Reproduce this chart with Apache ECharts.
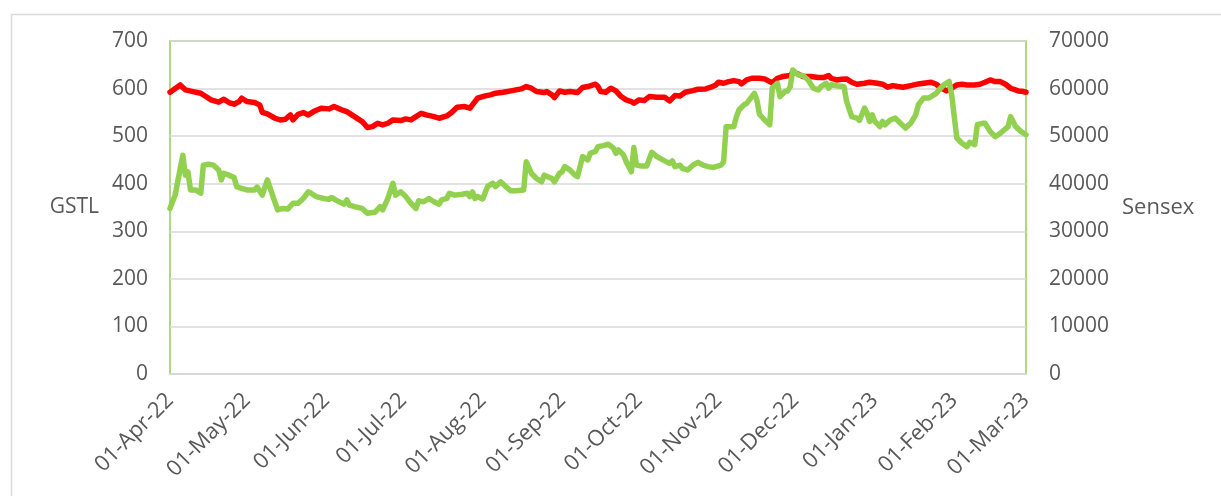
<!DOCTYPE html>
<html><head><meta charset="utf-8">
<script src="https://cdn.jsdelivr.net/npm/echarts@6/dist/echarts.min.js"></script>
<style>html,body{margin:0;padding:0;background:#fff}#c{width:1221px;height:496px}</style>
</head><body><div id="c"></div><script>
// ---- data ----
const gstlDates = [
'2022-04-01','2022-04-03','2022-04-06','2022-04-07','2022-04-08','2022-04-09','2022-04-11','2022-04-13','2022-04-14','2022-04-16',
'2022-04-18','2022-04-20','2022-04-21','2022-04-22','2022-04-24','2022-04-26','2022-04-27','2022-04-29','2022-05-01','2022-05-04',
'2022-05-05','2022-05-07','2022-05-09','2022-05-11','2022-05-13','2022-05-15','2022-05-17','2022-05-19','2022-05-21','2022-05-23',
'2022-05-25','2022-05-26','2022-05-28','2022-05-31','2022-06-02','2022-06-03','2022-06-06','2022-06-08','2022-06-09','2022-06-10',
'2022-06-12','2022-06-15','2022-06-17','2022-06-20','2022-06-22','2022-06-23','2022-06-25','2022-06-27','2022-06-28','2022-06-30',
'2022-07-02','2022-07-04','2022-07-06','2022-07-07','2022-07-09','2022-07-11','2022-07-13','2022-07-15','2022-07-16','2022-07-18',
'2022-07-19','2022-07-21','2022-07-24','2022-07-26','2022-07-27','2022-07-28','2022-07-29','2022-07-30','2022-08-01','2022-08-03',
'2022-08-05','2022-08-06','2022-08-08','2022-08-10','2022-08-12','2022-08-14','2022-08-17','2022-08-18','2022-08-20','2022-08-22',
'2022-08-24','2022-08-25','2022-08-28','2022-08-29','2022-08-31','2022-09-01','2022-09-02','2022-09-04','2022-09-06','2022-09-07',
'2022-09-09','2022-09-11','2022-09-12','2022-09-14','2022-09-15','2022-09-17','2022-09-19','2022-09-21','2022-09-22','2022-09-23',
'2022-09-25','2022-09-26','2022-09-28','2022-09-29','2022-09-30','2022-10-02','2022-10-04','2022-10-06','2022-10-08','2022-10-11',
'2022-10-13','2022-10-14','2022-10-15','2022-10-17','2022-10-18','2022-10-20','2022-10-22','2022-10-24','2022-10-26','2022-10-28',
'2022-10-30','2022-10-31','2022-11-02','2022-11-03','2022-11-04','2022-11-07','2022-11-08','2022-11-09','2022-11-11','2022-11-12',
'2022-11-14','2022-11-15','2022-11-16','2022-11-17','2022-11-19','2022-11-21','2022-11-22','2022-11-24','2022-11-25','2022-11-27',
'2022-11-28','2022-11-29','2022-11-30','2022-12-02','2022-12-04','2022-12-06','2022-12-08','2022-12-10','2022-12-11','2022-12-13',
'2022-12-14','2022-12-15','2022-12-17','2022-12-20','2022-12-21','2022-12-23','2022-12-25','2022-12-26','2022-12-28','2022-12-29',
'2022-12-30','2022-12-31','2023-01-01','2023-01-03','2023-01-04','2023-01-05','2023-01-07','2023-01-09','2023-01-11','2023-01-13',
'2023-01-15','2023-01-17','2023-01-18','2023-01-20','2023-01-22','2023-01-25','2023-01-26','2023-01-28','2023-01-30','2023-01-31',
'2023-02-02','2023-02-04','2023-02-06','2023-02-07','2023-02-09','2023-02-10','2023-02-12','2023-02-13','2023-02-15','2023-02-17',
'2023-02-19','2023-02-22','2023-02-23','2023-02-25','2023-02-27','2023-03-01'];
const gstlValues = [
348,376,460,418,425,387,387,380,439,441,
439,429,408,422,418,413,394,390,387,387,
393,376,408,376,345,348,347,359,359,369,
383,380,373,369,367,371,362,357,366,355,
352,348,338,340,352,345,369,401,376,383,
373,359,348,364,362,369,362,357,366,369,
380,376,378,380,373,383,369,373,368,395,
401,394,404,394,385,385,387,446,422,411,
404,418,411,404,422,425,436,429,418,415,
457,450,464,468,478,480,483,475,464,471,
460,446,425,476,439,437,437,466,457,448,
443,448,436,439,432,429,439,445,439,436,
434,436,439,446,520,520,541,555,566,569,
583,590,576,546,534,524,601,611,583,594,
595,604,639,629,627,618,601,597,604,611,
601,608,606,604,573,541,538,533,559,548,
531,545,531,520,531,524,534,538,527,517,
527,545,566,580,580,590,597,608,615,587,
496,485,478,487,482,524,527,527,510,499,
506,520,541,520,510,503];

const sensexDates = [
'2022-04-01','2022-04-05','2022-04-07','2022-04-10','2022-04-13','2022-04-15','2022-04-17','2022-04-20','2022-04-22','2022-04-24',
'2022-04-26','2022-04-28','2022-04-29','2022-05-01','2022-05-04','2022-05-06','2022-05-07','2022-05-09','2022-05-12','2022-05-14',
'2022-05-16','2022-05-18','2022-05-19','2022-05-21','2022-05-23','2022-05-25','2022-05-27','2022-05-30','2022-06-02','2022-06-04',
'2022-06-07','2022-06-09','2022-06-12','2022-06-15','2022-06-17','2022-06-19','2022-06-21','2022-06-23','2022-06-25','2022-06-27',
'2022-06-30','2022-07-02','2022-07-04','2022-07-06','2022-07-08','2022-07-10','2022-07-13','2022-07-15','2022-07-18','2022-07-20',
'2022-07-22','2022-07-25','2022-07-27','2022-07-28','2022-07-30','2022-08-02','2022-08-04','2022-08-06','2022-08-09','2022-08-12',
'2022-08-14','2022-08-16','2022-08-18','2022-08-20','2022-08-22','2022-08-25','2022-08-26','2022-08-28','2022-08-29','2022-08-31',
'2022-09-02','2022-09-04','2022-09-07','2022-09-09','2022-09-11','2022-09-14','2022-09-15','2022-09-16','2022-09-18','2022-09-20',
'2022-09-22','2022-09-24','2022-09-26','2022-09-28','2022-09-29','2022-10-01','2022-10-03','2022-10-05','2022-10-08','2022-10-11',
'2022-10-13','2022-10-15','2022-10-17','2022-10-19','2022-10-22','2022-10-24','2022-10-27','2022-10-29','2022-10-31','2022-11-01',
'2022-11-03','2022-11-05','2022-11-07','2022-11-09','2022-11-10','2022-11-12','2022-11-14','2022-11-17','2022-11-19','2022-11-21',
'2022-11-22','2022-11-24','2022-11-26','2022-11-29','2022-11-30','2022-12-02','2022-12-04','2022-12-07','2022-12-10','2022-12-12',
'2022-12-14','2022-12-15','2022-12-17','2022-12-19','2022-12-21','2022-12-23','2022-12-25','2022-12-28','2022-12-30','2023-01-02',
'2023-01-04','2023-01-06','2023-01-08','2023-01-10','2023-01-12','2023-01-15','2023-01-18','2023-01-20','2023-01-23','2023-01-25',
'2023-01-27','2023-01-29','2023-01-31','2023-02-02','2023-02-04','2023-02-06','2023-02-09','2023-02-11','2023-02-13','2023-02-15',
'2023-02-17','2023-02-19','2023-02-21','2023-02-23','2023-02-26','2023-02-28','2023-03-01'];
const sensexValues = [
59230,60770,59720,59370,59020,58320,57620,57130,57760,57060,
56710,57270,57970,57270,57060,56570,55020,54670,53760,53410,
53550,54460,53410,54600,54950,54460,55160,55870,55730,56220,
55520,55160,54110,53060,51800,52010,52710,52360,52710,53410,
53270,53620,53410,54110,54810,54460,54110,53760,54250,55020,
56080,56220,55870,56570,57970,58460,58670,59020,59230,59510,
59720,59930,60420,60070,59370,59160,59370,58670,58110,59510,
59230,59370,59160,60210,60420,60910,60420,59370,59230,60070,
59510,58320,57620,57270,56920,57620,57480,58320,58180,58180,
57410,58530,58460,59230,59580,59860,59930,60280,60770,61330,
61120,61470,61680,61470,60980,61820,62170,62170,62030,61470,
61260,62170,62520,62730,63430,63080,62520,62520,62310,62310,
62730,62170,61820,61960,62030,61330,60910,61120,61330,61120,
60910,60280,60630,60420,60280,60630,60980,61120,61330,60910,
60070,59510,60070,60770,60910,60770,60770,60910,61330,61820,
61470,61470,60910,60070,59510,59370,59230];

const startDate = '2022-04-01';
const endDate = '2023-03-01';
const leftAxis = {name: 'GSTL', min: 0, max: 700, interval: 100};
const rightAxis = {name: 'Sensex', min: 0, max: 70000, interval: 10000};
const monthNames = ['Jan','Feb','Mar','Apr','May','Jun','Jul','Aug','Sep','Oct','Nov','Dec'];

// ---- build the day-by-day category axis ----
const categories = [];
{
  const s = new Date(startDate + 'T00:00:00Z'), e = new Date(endDate + 'T00:00:00Z');
  for (let t = s.getTime(); t <= e.getTime(); t += 86400000) {
    categories.push(new Date(t).toISOString().slice(0, 10));
  }
}
function fmt(iso) {
  const [y, m, d] = iso.split('-');
  return d + '-' + monthNames[+m - 1] + '-' + y.slice(2);
}

const FONT = 'Open Sans';
const TXT = '#595959';
const GREEN = '#92D050';
const RED = '#FF0000';

const chart = echarts.init(document.getElementById('c'), null, {renderer: 'canvas'});
chart.setOption({
  animation: false,
  backgroundColor: '#ffffff',
  graphic: [{
    type: 'rect', left: 9, top: 12, shape: {width: 1240, height: 520},
    style: {fill: 'none', stroke: '#D9D9D9', lineWidth: 1.5}, silent: true, z: -10
  }],
  grid: {left: 170, right: 195, top: 41, bottom: 122, show: true,
         borderColor: GREEN, borderWidth: 1.5, backgroundColor: 'transparent'},
  xAxis: {
    type: 'category', data: categories, boundaryGap: false,
    axisLine: {show: true, lineStyle: {color: '#D9D9D9', width: 1.5}},
    axisTick: {show: false},
    splitLine: {show: false},
    axisLabel: {
      interval: (idx, val) => val.endsWith('-01'),
      formatter: v => fmt(v),
      rotate: 45, margin: 23, color: TXT, fontFamily: FONT, fontSize: 22
    }
  },
  yAxis: [{
    type: 'value', position: 'left', min: leftAxis.min, max: leftAxis.max, interval: leftAxis.interval,
    name: leftAxis.name, nameLocation: 'middle', nameRotate: 0, nameGap: 71,
    nameTextStyle: {color: TXT, fontFamily: FONT, fontSize: 21},
    axisLine: {show: false}, axisTick: {show: false},
    splitLine: {show: true, lineStyle: {color: '#D9D9D9', width: 1.5}},
    axisLabel: {color: TXT, fontFamily: FONT, fontSize: 21, margin: 22, formatter: v => String(v)}
  }, {
    type: 'value', position: 'right', min: rightAxis.min, max: rightAxis.max, interval: rightAxis.interval,
    name: rightAxis.name, nameLocation: 'middle', nameRotate: 0, nameGap: 96,
    nameTextStyle: {color: TXT, fontFamily: FONT, fontSize: 22},
    axisLine: {show: false}, axisTick: {show: false},
    splitLine: {show: false},
    axisLabel: {color: TXT, fontFamily: FONT, fontSize: 21, margin: 23, formatter: v => String(v)}
  }],
  series: [{
    name: 'Sensex', type: 'line', yAxisIndex: 1, showSymbol: false, symbol: 'none',
    data: sensexDates.map((d, i) => [d, sensexValues[i]]),
    lineStyle: {color: RED, width: 5.5, cap: 'round', join: 'round'}, itemStyle: {color: RED}, z: 2
  }, {
    name: 'GSTL', type: 'line', yAxisIndex: 0, showSymbol: false, symbol: 'none',
    data: gstlDates.map((d, i) => [d, gstlValues[i]]),
    lineStyle: {color: GREEN, width: 5.5, cap: 'round', join: 'round'}, itemStyle: {color: GREEN}, z: 3
  }]
});
</script></body></html>
